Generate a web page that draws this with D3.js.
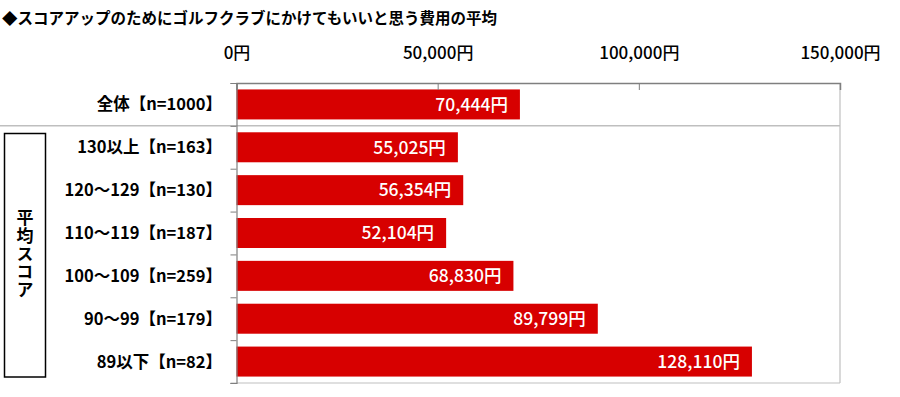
<!DOCTYPE html>
<html>
<head>
<meta charset="utf-8">
<script src="https://cdn.jsdelivr.net/npm/d3@7"></script>
<style>
  body { margin: 0; background: #fff; }
  svg text { font-family: "Noto Sans CJK JP", "Noto Sans", sans-serif; }
</style>
</head>
<body>
<svg id="chart" width="900" height="397"></svg>
<script>
// data
const title = "◆スコアアップのためにゴルフクラブにかけてもいいと思う費用の平均";
const categories = ["全体【n=1000】", "130以上【n=163】", "120～129【n=130】", "110～119【n=187】", "100～109【n=259】", "90～99【n=179】", "89以下【n=82】"];
const values = [70444, 55025, 56354, 52104, 68830, 89799, 128110];
const tickValues = [0, 50000, 100000, 150000];
const groupLabel = "平均スコア";

const svg = d3.select("#chart");

const plotL = 236.5, plotR = 840, plotT = 83, plotB = 383;

const x = d3.scaleLinear().domain([0, 150000]).range([plotL, plotR]);
const y = d3.scaleBand().domain(categories).range([plotT, plotB])
    .paddingInner(0.3).paddingOuter(0.15);
const yb = d3.scaleLinear().domain([0, categories.length]).range([plotT, plotB]);

const yen = d => d3.format(",")(d) + "円";

// title
svg.append("text")
    .attr("x", 2)
    .attr("y", 24)
    .style("font-size", "15.5px")
    .style("font-weight", "700")
    .attr("fill", "#000")
    .text(title);

// plot border (light)
svg.append("line")
    .attr("x1", plotR).attr("x2", plotR)
    .attr("y1", plotT).attr("y2", plotB)
    .attr("stroke", "#bfbfbf").attr("stroke-width", 1.2);
svg.append("line")
    .attr("x1", plotL - 6).attr("x2", plotR)
    .attr("y1", plotB).attr("y2", plotB)
    .attr("stroke", "#bfbfbf").attr("stroke-width", 1.2);

// separator under 全体
svg.append("line")
    .attr("x1", 0).attr("x2", plotR)
    .attr("y1", yb(1)).attr("y2", yb(1))
    .attr("stroke", "#bfbfbf").attr("stroke-width", 1.5);

// bars
svg.selectAll(".bar")
    .data(values)
    .enter()
    .append("rect")
    .attr("class", "bar")
    .attr("x", x(0))
    .attr("y", (d, i) => y(categories[i]))
    .attr("width", d => x(d) - x(0))
    .attr("height", y.bandwidth())
    .attr("fill", "#d70000");

// value labels
svg.selectAll(".val")
    .data(values)
    .enter()
    .append("text")
    .attr("class", "val")
    .attr("x", d => x(d) - 12)
    .attr("y", (d, i) => y(categories[i]) + y.bandwidth() / 2)
    .attr("dy", "0.36em")
    .attr("text-anchor", "end")
    .attr("fill", "#fff")
    .style("font-size", "17.5px")
    .style("font-weight", "500")
    .text(yen);

// top axis
const xAxis = svg.append("g")
    .attr("transform", `translate(0,${plotT})`)
    .call(d3.axisTop(x).tickValues(tickValues).tickSize(-7).tickPadding(24).tickFormat(yen));
xAxis.select(".domain").attr("stroke", "#7f7f7f").attr("stroke-width", 1.5);
xAxis.selectAll(".tick line").attr("stroke", "#7f7f7f");
xAxis.selectAll(".tick text")
    .attr("fill", "#000")
    .style("font-size", "17px")
    .style("font-weight", "500");

// left axis with ticks at band boundaries
const yAxis = svg.append("g")
    .attr("transform", `translate(${plotL},0)`)
    .call(d3.axisLeft(yb).tickValues(d3.range(categories.length + 1)).tickSize(6).tickFormat(""));
yAxis.select(".domain").attr("stroke", "#7f7f7f").attr("stroke-width", 1.2);
yAxis.selectAll(".tick line").attr("stroke", "#7f7f7f");

// category labels
svg.selectAll(".cat")
    .data(categories)
    .enter()
    .append("text")
    .attr("class", "cat")
    .attr("x", 222)
    .attr("y", d => y(d) + y.bandwidth() / 2)
    .attr("dy", "0.36em")
    .attr("text-anchor", "end")
    .attr("fill", "#000")
    .style("font-size", "16.5px")
    .style("font-weight", "700")
    .text(d => d);

// group box
svg.append("rect")
    .attr("x", 4.5).attr("y", 133.5)
    .attr("width", 41).attr("height", 243.5)
    .attr("fill", "none")
    .attr("stroke", "#000")
    .attr("stroke-width", 1.5);

svg.append("text")
    .attr("x", 25)
    .attr("y", 254.5)
    .attr("text-anchor", "middle")
    .style("writing-mode", "vertical-rl")
    .style("text-orientation", "upright")
    .style("letter-spacing", "1px")
    .attr("fill", "#000")
    .style("font-size", "17px")
    .style("font-weight", "700")
    .text(groupLabel);
</script>
</body>
</html>
